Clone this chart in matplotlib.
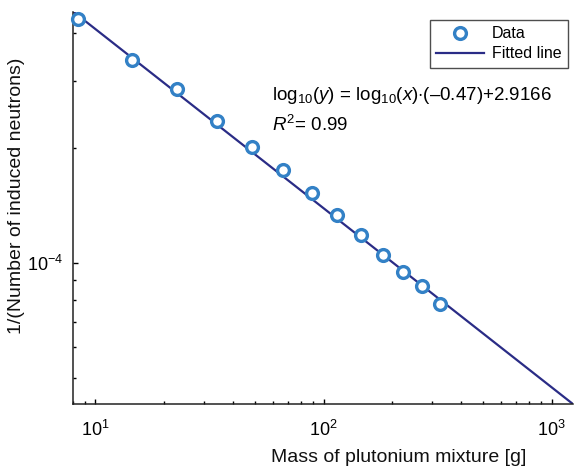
import numpy as np
import matplotlib
matplotlib.use("Agg")
import matplotlib.pyplot as plt
from matplotlib.ticker import LogLocator, NullFormatter

plt.rcParams['font.family'] = ['Liberation Sans', 'DejaVu Sans']
plt.rcParams['mathtext.fontset'] = 'custom'
plt.rcParams['mathtext.rm'] = 'Liberation Sans'
plt.rcParams['mathtext.it'] = 'Liberation Sans:italic'

# mass of mixture [g] and 1/(induced neutron count)
mass = [8.4, 14.5, 22.7, 34.0, 48.4, 66.6, 88.8, 114.3, 145.6, 181.8, 223.9, 271.3, 324.3]
inv_neutrons = [4.37e-4, 3.41e-4, 2.85e-4, 2.36e-4, 2.01e-4, 1.747e-4, 1.524e-4,
                1.331e-4, 1.184e-4, 1.051e-4, 9.45e-5, 8.69e-5, 7.81e-5]

# fit in log-log space
slope = -0.47
intercept = -2.9166
r2 = 0.99
x_range = [8.0, 1245.0]

fig = plt.figure(figsize=(5.74, 4.76), dpi=100)
ax = fig.add_axes([0.1277, 0.1506, 0.8711, 0.8248])

xf = np.logspace(np.log10(x_range[0]), np.log10(x_range[1]), 50)
yf = 10 ** (np.log10(xf) * slope + intercept)

ax.plot(mass, inv_neutrons, 'o', ms=8.5, mfc='white', mec='#3381c6', mew=2.4,
        label='Data', zorder=3, clip_on=False)
ax.plot(xf, yf, '-', color='#2a2c86', lw=1.6, label='Fitted line', zorder=2)

ax.set_xscale('log')
ax.set_yscale('log')
ax.set_xlim(x_range)
ax.set_ylim(yf[-1], yf[0])

for s in ['top', 'right']:
    ax.spines[s].set_visible(False)
for s in ['left', 'bottom']:
    ax.spines[s].set_linewidth(1.1)
    ax.spines[s].set_color('#222222')

ax.yaxis.set_major_locator(LogLocator(base=10))
ax.yaxis.set_minor_locator(LogLocator(base=10, subs=np.arange(2, 10)))
ax.yaxis.set_minor_formatter(NullFormatter())
ax.xaxis.set_minor_formatter(NullFormatter())
ax.tick_params(which='major', direction='in', length=3.5, width=1, labelsize=13)
ax.tick_params(axis='x', which='major', pad=11)
ax.tick_params(axis='y', which='major', pad=7)
ax.tick_params(which='minor', direction='in', length=2.5, width=1)

fig.text(399 / 574, 1 - 458 / 476, 'Mass of plutonium mixture [g]', fontsize=14,
         ha='center', va='center', color='#111111')
fig.text(17 / 574, 1 - 196 / 476, '1/(Number of induced neutrons)', fontsize=14,
         ha='center', va='center', rotation=90, color='#111111')

ax.text(272 / 574, 1 - 96 / 476,
        r'log$_{10}$($y$) = log$_{10}$($x$)$\cdot$(–0.47)+2.9166',
        transform=fig.transFigure, fontsize=13.5, ha='left', va='center')
ax.text(272 / 574, 1 - 125 / 476, r'$R^2$= %.2f' % r2,
        transform=fig.transFigure, fontsize=13.5, ha='left', va='center')

leg = ax.legend(loc='upper right', bbox_to_anchor=(568 / 574, 1 - 20 / 476),
                bbox_transform=fig.transFigure, fontsize=11.5, frameon=True,
                fancybox=False, borderpad=0.4, handlelength=3.0, handletextpad=0.5,
                labelspacing=0.3, borderaxespad=0)
leg.get_frame().set_edgecolor('#222222')
leg.get_frame().set_linewidth(1.0)

fig.savefig('out.png', dpi=100)
